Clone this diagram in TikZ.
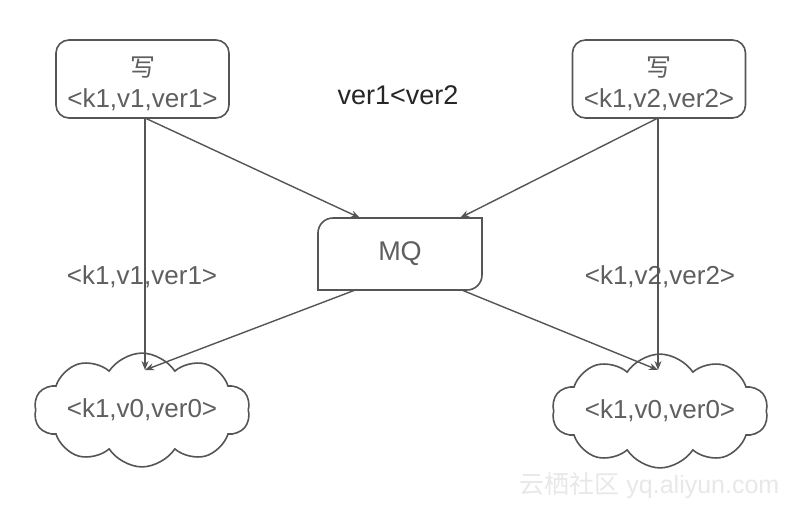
\documentclass[tikz,border=0pt]{standalone}
\usepackage{fontspec}
\setmainfont{Liberation Sans}
\newfontfamily\cjk{Noto Sans CJK SC}
\usetikzlibrary{shapes.symbols,arrows.meta}
\definecolor{linegray}{HTML}{555555}
\definecolor{textgray}{HTML}{5F5F5F}
\tikzset{
  box/.style={draw=linegray, line width=1.6pt, rounded corners=13pt, minimum width=173pt, minimum height=78pt, text=textgray, align=center, font=\fontsize{26}{28}\selectfont},
  store/.style={cloud, cloud puffs=10, cloud puff arc=115, aspect=2.6, draw=linegray, line width=1.6pt, minimum width=202pt, minimum height=78pt, inner sep=0pt, text=textgray, font=\fontsize{26}{28}\selectfont},
  conn/.style={draw=linegray, line width=1.4pt, -{Stealth[length=9pt,width=7pt]}},
  lbl/.style={text=textgray, font=\fontsize{26}{28}\selectfont},
}
\begin{document}
\begin{tikzpicture}[x=1pt,y=-1pt]
\useasboundingbox[fill=white] (0,0) rectangle (793,509);
\node[box] (w1) at (142.5,79) {\rule{0pt}{30pt}{\cjk\fontsize{25}{27}\selectfont 写}\\[3pt]<k1,v1,ver1>};
\node[box] (w2) at (659,79) {\rule{0pt}{30pt}{\cjk\fontsize{25}{27}\selectfont 写}\\[3pt]<k1,v2,ver2>};
\node[minimum width=164pt, minimum height=72pt, text=textgray, font=\fontsize{27}{29}\selectfont] (mq) at (400,254) {MQ};
\draw[linegray, line width=1.6pt] (318,290) -- (318,233) .. controls (318,224.7) and (324.7,218) .. (333,218) -- (482,218) -- (482,275) .. controls (482,283.3) and (475.3,290) .. (467,290) -- cycle;
\node[store] (c1) at (142,410) {<k1,v0,ver0>};
\node[store] (c2) at (660,411) {<k1,v0,ver0>};
\node[text=black!85, font=\fontsize{27}{29}\selectfont] (cmp) at (398,95) {ver1<ver2};
\node[lbl] (l1) at (142,277) {<k1,v1,ver1>};
\node[lbl] (l2) at (660,277) {<k1,v2,ver2>};
\coordinate (mqin1) at ([xshift=42pt]mq.north west);
\coordinate (mqin2) at ([xshift=-22pt]mq.north east);
\coordinate (mqout1) at ([xshift=37pt]mq.south west);
\coordinate (mqout2) at ([xshift=-20pt]mq.south east);
\coordinate (c1top) at (145,370);
\coordinate (c2top) at (658,370);
\coordinate (w1b) at (145,118);
\coordinate (w2b) at (658,118);
\draw[conn] (w1b) -- (c1top);
\draw[conn] (w1b) -- (mqin1);
\draw[conn] (w2b) -- (c2top);
\draw[conn] (w2b) -- (mqin2);
\draw[conn] (mqout1) -- (c1top);
\draw[conn] (mqout2) -- (c2top);
\node[text=black!9, font=\fontsize{25}{27}\selectfont, anchor=west] (wm) at (516,486) {{\cjk 云栖社区} yq.aliyun.com};
\end{tikzpicture}
\end{document}
